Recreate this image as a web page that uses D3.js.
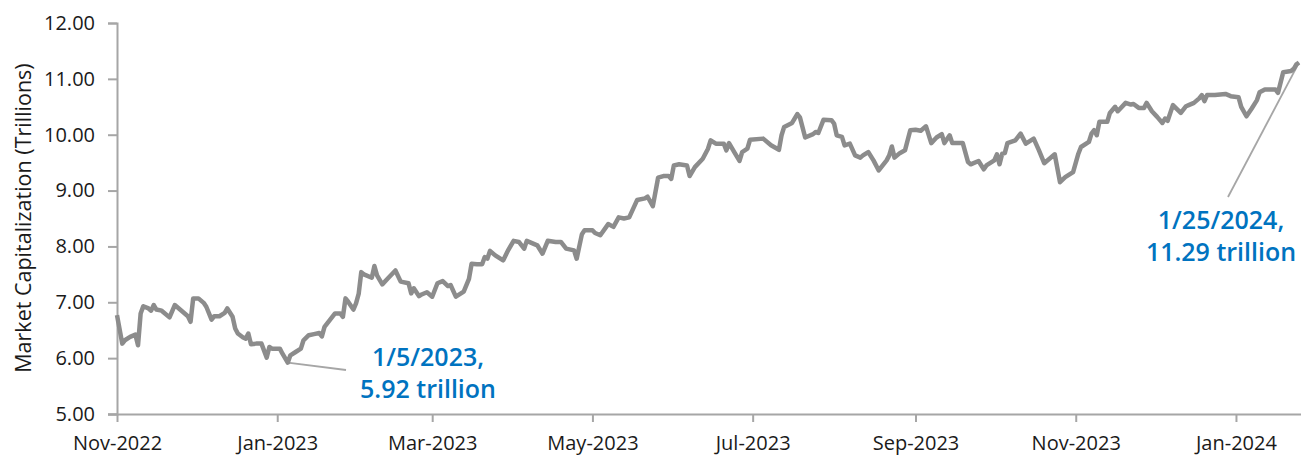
<!DOCTYPE html>
<html>
<head>
<meta charset="utf-8">
<script src="https://cdn.jsdelivr.net/npm/d3@7"></script>
<style>
  body { margin: 0; background: #fff; }
  svg { display: block; font-family: "Open Sans", sans-serif; }
</style>
</head>
<body>
<div id="chart"></div>
<script>
// Daily market cap (trillions)
const dates = [
  '2022-11-01','2022-11-03','2022-11-04','2022-11-06','2022-11-08','2022-11-09','2022-11-10','2022-11-11','2022-11-13','2022-11-14',
  '2022-11-15','2022-11-16','2022-11-18','2022-11-21','2022-11-23','2022-11-26','2022-11-28','2022-11-29','2022-11-30','2022-12-02',
  '2022-12-04','2022-12-05','2022-12-07','2022-12-08','2022-12-10','2022-12-12','2022-12-13','2022-12-15','2022-12-16','2022-12-17',
  '2022-12-19','2022-12-20','2022-12-21','2022-12-22','2022-12-24','2022-12-26','2022-12-28','2022-12-29','2022-12-30','2023-01-02',
  '2023-01-03','2023-01-05','2023-01-06','2023-01-08','2023-01-10','2023-01-11','2023-01-13','2023-01-15','2023-01-17','2023-01-18',
  '2023-01-19','2023-01-21','2023-01-23','2023-01-25','2023-01-26','2023-01-27','2023-01-28','2023-01-30','2023-01-31','2023-02-01',
  '2023-02-02','2023-02-03','2023-02-06','2023-02-07','2023-02-08','2023-02-10','2023-02-12','2023-02-15','2023-02-17','2023-02-20',
  '2023-02-21','2023-02-22','2023-02-24','2023-02-25','2023-02-27','2023-03-01','2023-03-03','2023-03-05','2023-03-07','2023-03-08',
  '2023-03-10','2023-03-13','2023-03-15','2023-03-16','2023-03-18','2023-03-20','2023-03-21','2023-03-22','2023-03-23','2023-03-25',
  '2023-03-28','2023-03-30','2023-04-01','2023-04-03','2023-04-05','2023-04-06','2023-04-10','2023-04-12','2023-04-14','2023-04-17',
  '2023-04-19','2023-04-21','2023-04-24','2023-04-25','2023-04-27','2023-04-28','2023-05-01','2023-05-02','2023-05-04','2023-05-07',
  '2023-05-09','2023-05-11','2023-05-13','2023-05-15','2023-05-18','2023-05-21','2023-05-22','2023-05-24','2023-05-26','2023-05-28',
  '2023-05-30','2023-05-31','2023-06-01','2023-06-03','2023-06-06','2023-06-07','2023-06-09','2023-06-12','2023-06-14','2023-06-15',
  '2023-06-17','2023-06-20','2023-06-21','2023-06-22','2023-06-24','2023-06-26','2023-06-27','2023-06-29','2023-06-30','2023-07-05',
  '2023-07-08','2023-07-11','2023-07-12','2023-07-13','2023-07-16','2023-07-18','2023-07-19','2023-07-21','2023-07-24','2023-07-25',
  '2023-07-26','2023-07-28','2023-07-31','2023-08-01','2023-08-02','2023-08-04','2023-08-05','2023-08-07','2023-08-09','2023-08-11',
  '2023-08-12','2023-08-14','2023-08-16','2023-08-18','2023-08-21','2023-08-22','2023-08-23','2023-08-24','2023-08-26','2023-08-28',
  '2023-08-30','2023-09-01','2023-09-03','2023-09-05','2023-09-07','2023-09-09','2023-09-11','2023-09-12','2023-09-14','2023-09-15',
  '2023-09-19','2023-09-21','2023-09-22','2023-09-25','2023-09-27','2023-09-28','2023-10-01','2023-10-02','2023-10-03','2023-10-04',
  '2023-10-05','2023-10-06','2023-10-09','2023-10-11','2023-10-13','2023-10-16','2023-10-18','2023-10-20','2023-10-24','2023-10-26',
  '2023-10-28','2023-10-31','2023-11-02','2023-11-03','2023-11-06','2023-11-07','2023-11-08','2023-11-09','2023-11-10','2023-11-13',
  '2023-11-14','2023-11-16','2023-11-17','2023-11-20','2023-11-22','2023-11-23','2023-11-25','2023-11-27','2023-11-28','2023-11-30',
  '2023-12-02','2023-12-04','2023-12-05','2023-12-06','2023-12-08','2023-12-11','2023-12-13','2023-12-14','2023-12-16','2023-12-18',
  '2023-12-19','2023-12-20','2023-12-21','2023-12-24','2023-12-28','2023-12-30','2024-01-02','2024-01-03','2024-01-05','2024-01-07',
  '2024-01-09','2024-01-10','2024-01-12','2024-01-16','2024-01-17','2024-01-19','2024-01-22','2024-01-23','2024-01-24','2024-01-25'
];
const marketCap = [
  6.77,6.26,6.32,6.38,6.42,6.23,6.80,6.93,6.89,6.85,
  6.95,6.87,6.85,6.73,6.95,6.83,6.75,6.65,7.07,7.07,
  6.99,6.92,6.69,6.75,6.75,6.81,6.89,6.74,6.53,6.44,
  6.37,6.35,6.44,6.25,6.26,6.26,6.01,6.20,6.17,6.17,
  6.08,5.92,6.05,6.11,6.17,6.32,6.41,6.43,6.45,6.39,
  6.56,6.68,6.80,6.80,6.74,7.07,7.01,6.87,6.98,7.15,
  7.54,7.50,7.44,7.65,7.48,7.32,7.42,7.57,7.37,7.34,
  7.16,7.25,7.11,7.14,7.18,7.10,7.34,7.38,7.29,7.31,
  7.10,7.19,7.42,7.69,7.68,7.68,7.81,7.78,7.92,7.84,
  7.75,7.94,8.10,8.08,7.96,8.10,8.02,7.87,8.10,8.08,
  8.08,7.96,7.93,7.78,8.22,8.29,8.29,8.24,8.20,8.40,
  8.35,8.52,8.50,8.52,8.83,8.86,8.89,8.72,9.23,9.26,
  9.26,9.21,9.45,9.47,9.45,9.26,9.42,9.57,9.75,9.90,
  9.84,9.84,9.72,9.85,9.69,9.53,9.69,9.75,9.91,9.93,
  9.81,9.73,9.99,10.14,10.21,10.37,10.31,9.95,10.01,10.05,
  10.03,10.27,10.26,10.20,9.99,9.96,9.81,9.84,9.63,9.59,
  9.63,9.69,9.54,9.36,9.54,9.63,9.79,9.59,9.67,9.72,
  10.08,10.09,10.07,10.15,9.85,9.95,10.01,9.85,9.99,9.85,
  9.85,9.51,9.47,9.53,9.38,9.45,9.54,9.65,9.47,9.66,
  9.67,9.85,9.90,10.02,9.84,9.93,9.72,9.49,9.65,9.15,
  9.24,9.33,9.66,9.78,9.87,10.02,10.08,9.99,10.23,10.23,
  10.39,10.50,10.42,10.57,10.54,10.55,10.48,10.48,10.57,10.42,
  10.32,10.21,10.29,10.25,10.53,10.39,10.51,10.53,10.57,10.65,
  10.71,10.60,10.71,10.71,10.73,10.69,10.67,10.50,10.33,10.47,
  10.62,10.76,10.81,10.81,10.75,11.12,11.14,11.18,11.26,11.29
];
const xTickDates = ['2022-11-01','2023-01-01','2023-03-01','2023-05-01','2023-07-01','2023-09-01','2023-11-01','2024-01-01'];
const yTickValues = [5, 6, 7, 8, 9, 10, 11, 12];
const annotations = [
  { date: '2023-01-05', value: 5.92, lines: ['1/5/2023,', '5.92 trillion'] },
  { date: '2024-01-25', value: 11.29, lines: ['1/25/2024,', '11.29 trillion'] }
];

const w = 1301, h = 455;
const parse = d3.utcParse('%Y-%m-%d');
const data = dates.map((d, i) => ({ date: parse(d), value: marketCap[i] }));

const svg = d3.select('#chart').append('svg')
  .attr('width', w)
  .attr('height', h);

const x = d3.scaleUtc()
  .domain([parse('2022-11-01'), parse('2024-01-25')])
  .range([117, 1299]);
const y = d3.scaleLinear()
  .domain([5, 12])
  .range([414, 23]);

const axisColor = '#a6a6a6';
const textColor = '#1a1a1a';

// y axis
const yAxis = svg.append('g')
  .attr('transform', 'translate(117,0)')
  .call(d3.axisLeft(y).tickValues(yTickValues).tickFormat(d3.format('.2f')).tickSizeOuter(0).tickSize(9).tickPadding(13));
// x axis
const xAxis = svg.append('g')
  .attr('transform', 'translate(0,414)')
  .call(d3.axisBottom(x).tickValues(xTickDates.map(parse)).tickFormat(d3.utcFormat('%b-%Y')).tickSizeOuter(0).tickSize(8).tickPadding(14));
xAxis.select('.domain').attr('d', 'M108,0.5H1301');

[yAxis, xAxis].forEach(g => {
  g.select('.domain').attr('stroke', axisColor).attr('stroke-width', 2);
  g.selectAll('.tick line').attr('stroke', axisColor).attr('stroke-width', 2);
  g.selectAll('.tick text').attr('fill', textColor).style('font-size', '20px').style('font-family', '"Open Sans", sans-serif');
});

// y axis title
svg.append('text')
  .attr('transform', 'translate(31,218) rotate(-90)')
  .attr('text-anchor', 'middle')
  .attr('fill', textColor)
  .style('font-size', '21.5px')
  .text('Market Capitalization (Trillions)');

// connector lines for annotations
const labelPos = [
  { x: 428, lineEnd: [346, 370], y1: 366 },
  { x: 1221, lineEnd: [1228, 197], y1: 229 }
];
annotations.forEach((a, i) => {
  const px = x(parse(a.date)), py = y(a.value);
  const pos = labelPos[i];
  svg.append('line')
    .attr('x1', px).attr('y1', py)
    .attr('x2', pos.lineEnd[0]).attr('y2', pos.lineEnd[1])
    .attr('stroke', '#a6a6a6')
    .attr('stroke-width', 1.8);
});

// series line
svg.append('path')
  .datum(data)
  .attr('fill', 'none')
  .attr('stroke', '#8c8c8c')
  .attr('stroke-width', 4.5)
  .attr('stroke-linejoin', 'round')
  .attr('d', d3.line().x(d => x(d.date)).y(d => y(d.value)));

// annotation labels
annotations.forEach((a, i) => {
  const pos = labelPos[i];
  const t = svg.append('text')
    .attr('text-anchor', 'middle')
    .attr('fill', '#0073c0')
    .style('font-size', '25px')
    .style('font-weight', 600);
  a.lines.forEach((ln, j) => {
    t.append('tspan').attr('x', pos.x).attr('y', pos.y1 + j * 32).text(ln);
  });
});
</script>
</body>
</html>
